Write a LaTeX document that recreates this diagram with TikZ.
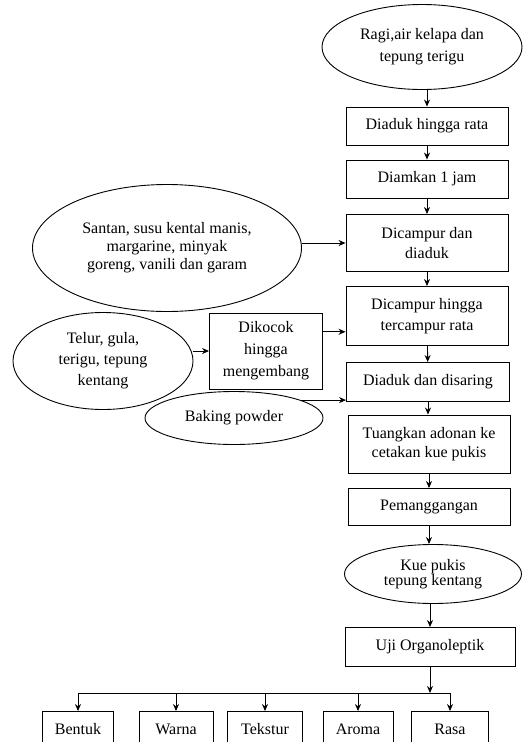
\documentclass[tikz,border=0pt]{standalone}
\usepackage{fontspec}
\setmainfont{Liberation Serif}
\usetikzlibrary{shapes.geometric,arrows.meta,calc}
\begin{document}
\begin{tikzpicture}[x=1pt,y=-1pt,
  every node/.style={font=\fontsize{16}{19.5}\selectfont, align=center, line width=0.9pt},
  procbox/.style={draw, rectangle, inner sep=1pt},
  oval/.style={draw, ellipse, inner sep=0pt},
  arr/.style={-{Stealth[length=7pt,width=6pt]}, line width=0.9pt},
  ln/.style={line width=0.9pt}]
\useasboundingbox (0,0) rectangle (524,742);
% main column
\node[oval, minimum width=200, minimum height=85, font=\fontsize{16}{22}\selectfont] (e1) at (422,47) {Ragi,air kelapa dan\\tepung terigu};
\node[procbox, minimum width=162, minimum height=38] (b1) at (427,126) {Diaduk hingga rata};
\node[procbox, minimum width=162, minimum height=38] (b2) at (427,179) {Diamkan 1 jam};
\node[procbox, minimum width=162, minimum height=57] (b3) at (427,243) {Dicampur dan\\diaduk};
\node[procbox, minimum width=162, minimum height=59, font=\fontsize{16}{21}\selectfont] (b4) at (427,316) {Dicampur hingga\\tercampur rata};
\node[procbox, minimum width=163, minimum height=39] (b6) at (428,382) {Diaduk dan disaring};
\node[procbox, minimum width=162, minimum height=58] (b7) at (429,444) {Tuangkan adonan ke\\cetakan kue pukis};
\node[procbox, minimum width=162, minimum height=37] (b8) at (429,507) {Pemanggangan};
\node[oval, minimum width=177, minimum height=59, font=\fontsize{16}{15}\selectfont] (e5) at (433,574) {Kue pukis\\tepung kentang};
\node[procbox, minimum width=170, minimum height=39] (b9) at (430,647) {Uji Organoleptik};
% side inputs
\node[oval, minimum width=269, minimum height=127, font=\fontsize{16}{18}\selectfont] (e2) at (167,248) {Santan, susu kental manis,\\margarine, minyak\\goreng, vanili dan garam};
\node[procbox, minimum width=113, minimum height=76, font=\fontsize{16}{22}\selectfont] (b5) at (266,351) {Dikocok\\hingga\\mengembang};
\node[oval, minimum width=180, minimum height=97, font=\fontsize{16}{21}\selectfont] (e3) at (103,361) {Telur, gula,\\terigu, tepung\\kentang};
\node[oval, minimum width=178, minimum height=53] (e4) at (234,418) {Baking powder};
% bottom boxes
\node[procbox, minimum width=71, minimum height=35] (m1) at (78,729) {Bentuk};
\node[procbox, minimum width=74, minimum height=35] (m2) at (176,729) {Warna};
\node[procbox, minimum width=75, minimum height=35] (m3) at (265,729) {Tekstur};
\node[procbox, minimum width=70, minimum height=35] (m4) at (358,729) {Aroma};
\node[procbox, minimum width=77, minimum height=35] (m5) at (450,729) {Rasa};
\coordinate (bar) at (432,693);
% main arrows
\draw[arr] (e1.south -| b1.north) -- (b1.north);
\draw[arr] (b1) -- (b2);
\draw[arr] (b2) -- (b3);
\draw[arr] (b3) -- (b4);
\draw[arr] (b4) -- (b6);
\draw[arr] (b6.south) -- (b6.south |- b7.north);
\draw[arr] (b7.south) -- (b7.south |- b8.north);
\draw[arr] (b8.south) -- (b8.south |- e5.north);
\draw[arr] (e5.south -| b9.north) -- (b9.north);
% side arrows
\draw[arr] (e2.east |- b3.west) -- (b3.west);
\draw[arr] (e3.east |- b5.west) -- (b5.west);
\draw[arr] ($(b5.north east)!0.25!(b5.south east)$) coordinate (p) -- (p -| b4.west);
\draw[arr] (e4.15) -- (e4.15 -| b6.west);
% bottom distribution
\draw[arr] (b9.south) -- (b9.south |- bar);
\draw[ln] (m1.north |- bar) -- (m5.north |- bar);
\foreach \m in {m1,m2,m3,m4,m5} \draw[arr] (\m.north |- bar) -- (\m.north);
\end{tikzpicture}
\end{document}
